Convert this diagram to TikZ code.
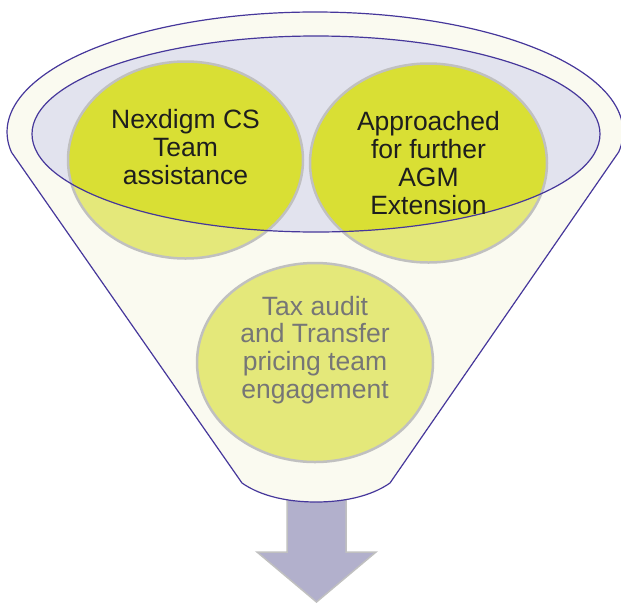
\documentclass[tikz,border=0pt]{standalone}
\usepackage{fontspec}
\setmainfont{Liberation Sans}
\usepackage{tikz}
\usetikzlibrary{shapes.geometric}
\definecolor{edge_navy}{RGB}{70,55,155}
\definecolor{edge_gray}{RGB}{192,192,192}
\definecolor{fill_cream}{RGB}{250,250,240}
\definecolor{fill_lav}{RGB}{226,227,238}
\definecolor{node_lite}{RGB}{228,232,122}
\definecolor{node_dark}{RGB}{217,223,52}
\definecolor{arrow_fill}{RGB}{178,176,204}
\definecolor{text_dark}{RGB}{30,30,30}
\definecolor{text_gray}{RGB}{118,118,118}

\begin{document}
\begin{tikzpicture}[x=1pt,y=1pt]
    \tikzstyle{funnel}=[draw=edge_navy, fill=fill_cream, line width=1.2pt, line join=round]
    \tikzstyle{rim}=[draw=edge_navy, line width=1.2pt]
    \tikzstyle{ball}=[ellipse, draw=edge_gray, line width=2.5pt, inner sep=0, minimum width=236, minimum height=198]
    \tikzstyle{txt}=[align=center, text=text_dark, font=\fontsize{26.5}{27.8}\selectfont]
    \tikzstyle{pipe}=[fill=arrow_fill, draw=edge_gray, line width=1.5pt, line join=miter]

    \useasboundingbox (0,0) rectangle (621,-603);

    % arrow out of the funnel
    \filldraw[pipe] (287,-490) -- (287,-552) -- (257,-552) -- (316.5,-602)
      -- (376,-552) -- (346,-552) -- (346,-490) -- cycle;

    % funnel body
    \coordinate (tl) at (11.3,-152);
    \coordinate (bl) at (242,-483);
    \coordinate (br) at (390,-483);
    \coordinate (tr) at (618.7,-152);
    \draw[funnel] (tl) -- (bl) .. controls (262,-497) and (290,-502) .. (316,-502)
      .. controls (342,-502) and (370,-497) .. (br) -- (tr)
      arc[start angle=-9.6, end angle=189.6, x radius=308, y radius=120] -- cycle;

    % inner ellipse
    \fill[fill_lav] (316,-134) ellipse[x radius=284, y radius=98];
    \fill[node_lite] (185.5,-160) ellipse[x radius=117.5, y radius=98.5];
    \fill[node_lite] (428.5,-163) ellipse[x radius=118.5, y radius=99.5];
    \fill[node_lite] (315,-362.5) ellipse[x radius=118, y radius=99.5];
    \begin{scope}
      \clip (316,-134) ellipse[x radius=284, y radius=98];
      \fill[node_dark] (185.5,-160) ellipse[x radius=117.5, y radius=98.5];
      \fill[node_dark] (428.5,-163) ellipse[x radius=118.5, y radius=99.5];
    \end{scope}

    \node[ball, minimum width=235, minimum height=197] (a) at (185.5,-160) {};
    \node[ball, minimum width=237, minimum height=199] (b) at (428.5,-163) {};
    \node[ball, minimum width=236, minimum height=199] (c) at (315,-362.5) {};
    \draw[rim] (316,-134) ellipse[x radius=284, y radius=98];

    \node[txt] (ta) at (185.5,-147) {Nexdigm CS\\Team\\assistance};
    \node[txt] (tb) at (428.5,-163) {Approached\\for further\\AGM\\Extension};
    \node[txt, text=text_gray] (tc) at (315,-350) {Tax audit\\and Transfer\\pricing team\\engagement};
\end{tikzpicture}
\end{document}
